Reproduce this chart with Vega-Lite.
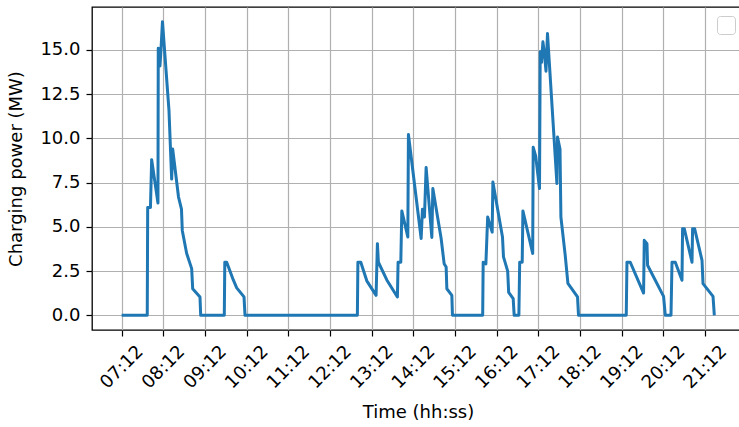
{
  "$schema": "https://vega.github.io/schema/vega-lite/v6.json",
  "autosize": "none",
  "padding": {"left": 92, "top": 7, "right": 0, "bottom": 97},
  "width": 652,
  "height": 323,
  "background": "white",
  "config": {
    "font": "DejaVu Sans",
    "view": {"stroke": "black", "strokeWidth": 1.3},
    "axis": {
      "domain": false,
      "grid": true,
      "gridColor": "#b0b0b0",
      "gridWidth": 1.2,
      "tickColor": "black",
      "tickWidth": 1.2,
      "tickSize": 6,
      "labelFont": "DejaVu Sans",
      "labelFontSize": 18,
      "labelColor": "black",
      "titleFont": "DejaVu Sans",
      "titleFontSize": 18,
      "titleFontWeight": "normal",
      "titleColor": "black",
      "labelOverlap": false,
      "labelFlush": false,
      "labelBound": false
    }
  },
  "data": {
    "format": {"parse": {"t": "date:'%H:%M:%S'"}},
    "values": [
      {"t": "07:12:00", "p": 0},
      {"t": "07:48:53", "p": 0},
      {"t": "07:49:30", "p": 6.1},
      {"t": "07:53:30", "p": 6.1},
      {"t": "07:55:13", "p": 8.8},
      {"t": "08:04:18", "p": 6.35},
      {"t": "08:04:44", "p": 15.1},
      {"t": "08:07:11", "p": 14.1},
      {"t": "08:08:37", "p": 15.0},
      {"t": "08:10:47", "p": 16.6},
      {"t": "08:20:08", "p": 11.6},
      {"t": "08:24:02", "p": 7.7},
      {"t": "08:25:28", "p": 9.4},
      {"t": "08:33:50", "p": 6.7},
      {"t": "08:38:09", "p": 6.0},
      {"t": "08:39:18", "p": 4.8},
      {"t": "08:45:38", "p": 3.5},
      {"t": "08:52:50", "p": 2.64},
      {"t": "08:54:17", "p": 1.5},
      {"t": "09:04:48", "p": 1.03},
      {"t": "09:05:49", "p": 0},
      {"t": "09:39:48", "p": 0},
      {"t": "09:40:31", "p": 3.0},
      {"t": "09:43:16", "p": 3.0},
      {"t": "09:52:46", "p": 2.0},
      {"t": "09:57:40", "p": 1.55},
      {"t": "10:08:11", "p": 1.04},
      {"t": "10:09:37", "p": 0},
      {"t": "12:51:24", "p": 0},
      {"t": "12:52:08", "p": 3.0},
      {"t": "12:56:18", "p": 3.0},
      {"t": "13:04:57", "p": 1.95},
      {"t": "13:18:21", "p": 1.13},
      {"t": "13:20:13", "p": 4.05},
      {"t": "13:21:40", "p": 3.0},
      {"t": "13:33:46", "p": 2.0},
      {"t": "13:49:01", "p": 1.04},
      {"t": "13:50:00", "p": 3.0},
      {"t": "13:53:55", "p": 3.0},
      {"t": "13:55:22", "p": 5.9},
      {"t": "14:04:01", "p": 4.43},
      {"t": "14:04:53", "p": 10.22},
      {"t": "14:23:12", "p": 4.34},
      {"t": "14:25:05", "p": 6.0},
      {"t": "14:27:58", "p": 5.56},
      {"t": "14:30:22", "p": 8.35},
      {"t": "14:38:35", "p": 4.4},
      {"t": "14:40:02", "p": 7.17},
      {"t": "14:51:59", "p": 4.34},
      {"t": "14:56:18", "p": 2.92},
      {"t": "14:59:11", "p": 2.73},
      {"t": "15:00:12", "p": 1.5},
      {"t": "15:07:24", "p": 1.13},
      {"t": "15:08:16", "p": 0},
      {"t": "15:51:47", "p": 0},
      {"t": "15:52:30", "p": 3.0},
      {"t": "15:56:23", "p": 2.9},
      {"t": "15:58:58", "p": 5.56},
      {"t": "16:05:28", "p": 4.7},
      {"t": "16:06:28", "p": 7.54},
      {"t": "16:20:18", "p": 4.43},
      {"t": "16:21:44", "p": 3.3},
      {"t": "16:27:47", "p": 2.5},
      {"t": "16:29:13", "p": 1.3},
      {"t": "16:35:42", "p": 0.94},
      {"t": "16:37:08", "p": 0},
      {"t": "16:43:54", "p": 0},
      {"t": "16:45:04", "p": 3.0},
      {"t": "16:48:41", "p": 3.0},
      {"t": "16:49:42", "p": 5.9},
      {"t": "17:03:47", "p": 3.5},
      {"t": "17:04:30", "p": 9.5},
      {"t": "17:08:07", "p": 9.0},
      {"t": "17:13:36", "p": 7.17},
      {"t": "17:14:36", "p": 14.9},
      {"t": "17:16:29", "p": 14.3},
      {"t": "17:18:30", "p": 15.46},
      {"t": "17:20:42", "p": 14.8},
      {"t": "17:22:56", "p": 13.8},
      {"t": "17:25:06", "p": 15.93},
      {"t": "17:38:40", "p": 7.45},
      {"t": "17:39:32", "p": 10.08},
      {"t": "17:43:07", "p": 9.4},
      {"t": "17:44:24", "p": 5.56},
      {"t": "17:50:37", "p": 3.39},
      {"t": "17:54:30", "p": 1.8},
      {"t": "18:08:19", "p": 1.04},
      {"t": "18:09:46", "p": 0},
      {"t": "19:18:30", "p": 0},
      {"t": "19:19:30", "p": 3.0},
      {"t": "19:24:16", "p": 3.0},
      {"t": "19:43:25", "p": 1.26},
      {"t": "19:44:25", "p": 4.24},
      {"t": "19:48:19", "p": 4.05},
      {"t": "19:49:10", "p": 2.83},
      {"t": "20:12:13", "p": 1.07},
      {"t": "20:14:41", "p": 0},
      {"t": "20:22:54", "p": 0},
      {"t": "20:24:21", "p": 3.0},
      {"t": "20:29:05", "p": 3.0},
      {"t": "20:38:44", "p": 1.98},
      {"t": "20:39:35", "p": 4.9},
      {"t": "20:42:02", "p": 4.9},
      {"t": "20:53:09", "p": 3.0},
      {"t": "20:54:00", "p": 4.9},
      {"t": "20:56:53", "p": 4.9},
      {"t": "21:07:33", "p": 3.11},
      {"t": "21:09:00", "p": 1.79},
      {"t": "21:23:24", "p": 1.07},
      {"t": "21:25:17", "p": 0}
    ]
  },
  "mark": {"type": "line", "strokeWidth": 3, "strokeJoin": "round", "interpolate": "linear"},
  "encoding": {
    "x": {
      "field": "t",
      "type": "temporal",
      "scale": {
        "domain": [
          {"year": 1900, "month": 1, "date": 1, "hours": 6, "minutes": 29, "seconds": 20},
          {"year": 1900, "month": 1, "date": 1, "hours": 22, "minutes": 8, "seconds": 0}
        ]
      },
      "axis": {
        "title": "Time (hh:ss)",
        "format": "%H:%M",
        "values": [
          {"year": 1900, "month": 1, "date": 1, "hours": 7, "minutes": 12},
          {"year": 1900, "month": 1, "date": 1, "hours": 8, "minutes": 12},
          {"year": 1900, "month": 1, "date": 1, "hours": 9, "minutes": 12},
          {"year": 1900, "month": 1, "date": 1, "hours": 10, "minutes": 12},
          {"year": 1900, "month": 1, "date": 1, "hours": 11, "minutes": 12},
          {"year": 1900, "month": 1, "date": 1, "hours": 12, "minutes": 12},
          {"year": 1900, "month": 1, "date": 1, "hours": 13, "minutes": 12},
          {"year": 1900, "month": 1, "date": 1, "hours": 14, "minutes": 12},
          {"year": 1900, "month": 1, "date": 1, "hours": 15, "minutes": 12},
          {"year": 1900, "month": 1, "date": 1, "hours": 16, "minutes": 12},
          {"year": 1900, "month": 1, "date": 1, "hours": 17, "minutes": 12},
          {"year": 1900, "month": 1, "date": 1, "hours": 18, "minutes": 12},
          {"year": 1900, "month": 1, "date": 1, "hours": 19, "minutes": 12},
          {"year": 1900, "month": 1, "date": 1, "hours": 20, "minutes": 12},
          {"year": 1900, "month": 1, "date": 1, "hours": 21, "minutes": 12}
        ],
        "labelAngle": -45,
        "labelAlign": "center",
        "labelBaseline": "middle",
        "labelPadding": 31,
        "titlePadding": 12
      }
    },
    "y": {
      "field": "p",
      "type": "quantitative",
      "scale": {"domain": [-0.83, 17.43], "nice": false, "zero": false},
      "axis": {
        "title": "Charging power (MW)",
        "values": [0, 2.5, 5, 7.5, 10, 12.5, 15],
        "format": ".1f",
        "labelPadding": 6,
        "titlePadding": 14
      }
    },
    "color": {
      "datum": "series",
      "scale": {"range": ["#1f77b4"]},
      "legend": {
        "orient": "top-right",
        "offset": 9,
        "title": null,
        "labelExpr": "''",
        "labelFontSize": 1,
        "labelOffset": 0,
        "symbolOpacity": 0,
        "symbolSize": 4,
        "symbolStrokeWidth": 0,
        "symbolType": "square",
        "padding": 8,
        "strokeColor": "#cccccc",
        "fillColor": "white",
        "cornerRadius": 3
      }
    }
  }
}
